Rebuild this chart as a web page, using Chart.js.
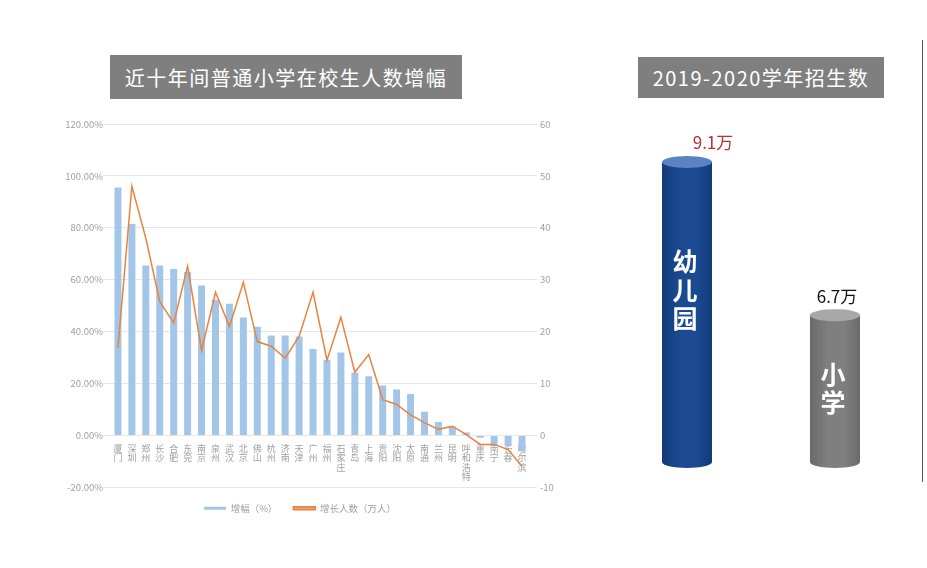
<!DOCTYPE html>
<html>
<head>
<meta charset="utf-8">
<script src="https://cdn.jsdelivr.net/npm/chart.js@4.4.0/dist/chart.umd.min.js"></script>
<style>
  body { margin: 0; background: #fff; width: 927px; height: 568px; overflow: hidden; position: relative;
         font-family: "Noto Sans CJK SC", "Noto Sans", sans-serif; }
  .title { position: absolute; background: #7f7f7f; color: #fff; font-size: 20px; letter-spacing: 1.5px;
           display: flex; align-items: center; justify-content: center; }
  #leftWrap { position: absolute; left: 0; top: 100px; width: 600px; height: 429px; }
  #rightWrap { position: absolute; left: 600px; top: 100px; width: 327px; height: 400px; }
  #edge { position: absolute; left: 922px; top: 40px; width: 1px; height: 442px; background: #555; }
</style>
</head>
<body>
<div class="title" style="left:110px;top:55px;width:352px;height:44px;">近十年间普通小学在校生人数增幅</div>
<div class="title" style="left:638px;top:57px;width:246px;height:41px;">2019-2020学年招生数</div>
<div id="leftWrap"><canvas id="growth"></canvas></div>
<div id="rightWrap"><canvas id="enroll"></canvas></div>
<div id="edge"></div>
<script>
// 城市
const cities = ['厦门','深圳','郑州','长沙','合肥','东莞','南京','泉州','武汉','北京',
  '佛山','杭州','济南','天津','广州','福州','石家庄','青岛','上海','贵阳',
  '沈阳','太原','南通','兰州','昆明','呼和浩特','重庆','南宁','长春','哈尔滨'];
// 增幅（%）
const growthPct = [95.5, 81.5, 65.5, 65.5, 64.2, 63.0, 57.8, 52.3, 50.8, 45.5,
  41.9, 38.5, 38.5, 38.2, 33.3, 29.2, 32.0, 24.2, 22.8, 19.3,
  17.7, 16.0, 9.2, 5.2, 3.5, 1.2, -0.8, -3.5, -4.0, -6.0];
// 增长人数（万人）
const growthNum = [16.9, 48.0, 38.0, 25.8, 21.7, 32.6, 16.4, 27.6, 21.0, 29.5,
  18.1, 17.2, 14.9, 19.1, 27.6, 14.5, 22.8, 12.2, 15.6, 6.9,
  6.0, 4.0, 2.5, 1.2, 1.8, 0.2, -1.7, -1.7, -2.7, -5.9];

// 招生数（万）
const stages = ['幼儿园', '小学'];
const enrollments = [9.1, 6.7];
const valueColors = ['#b13535', '#111111'];

const tickFont = { family: '"Noto Sans CJK SC", sans-serif', size: 9.5 };
const grey = '#a0a0a0';

new Chart(document.getElementById('growth'), {
  type: 'bar',
  data: {
    labels: cities.map(c => c.split('')),
    datasets: [
      {
        label: '增幅（%）',
        data: growthPct,
        backgroundColor: '#a2c5e8',
        yAxisID: 'y',
        order: 2,
        categoryPercentage: 1,
        barPercentage: 0.5
      },
      {
        type: 'line',
        label: '增长人数（万人）',
        data: growthNum,
        borderColor: '#e8843f',
        backgroundColor: '#e8a070',
        borderWidth: 1.5,
        pointRadius: 0,
        tension: 0,
        yAxisID: 'y1',
        order: 1
      }
    ]
  },
  options: {
    responsive: true,
    maintainAspectRatio: false,
    animation: false,
    layout: { padding: { top: 24, bottom: 6 } },
    plugins: {
      legend: {
        position: 'bottom',
        labels: {
          boxWidth: 22, boxHeight: 3, color: grey, font: tickFont, padding: 16,
          sort: (a, b) => a.datasetIndex - b.datasetIndex
        }
      },
      tooltip: { enabled: false }
    },
    scales: {
      x: {
        position: { y: 0 },
        afterFit: s => { s.height = 0; },
        grid: { display: false },
        border: { display: false },
        ticks: { color: grey, font: { ...tickFont, size: 9, lineHeight: 1.05 }, maxRotation: 0, autoSkip: false, padding: 0 }
      },
      y: {
        position: 'left',
        min: -20, max: 120,
        afterFit: s => { s.width = 111; },
        grid: { color: '#e6e6e6' },
        border: { display: false },
        ticks: { stepSize: 20, color: grey, font: tickFont, padding: 0,
                 callback: v => v.toFixed(2) + '%' }
      },
      y1: {
        position: 'right',
        min: -10, max: 60,
        afterFit: s => { s.width = 71; },
        grid: { drawOnChartArea: false },
        border: { display: false },
        ticks: { stepSize: 10, color: grey, font: tickFont, padding: 3 }
      }
    }
  }
});

// cylinders for the enrolment bars
const cylinderColors = [
  { body: '#1b4a92', edge: '#123a78', top: '#5b82c2' },
  { body: '#7f7f7f', edge: '#6a6a6a', top: '#a8a8a8' }
];
const cylinderPlugin = {
  id: 'cylinders',
  afterDatasetsDraw(chart) {
    const ctx = chart.ctx;
    const meta = chart.getDatasetMeta(0);
    meta.data.forEach((bar, i) => {
      const c = cylinderColors[i];
      const w = bar.width, x0 = bar.x - w / 2, top = bar.y;
      const base = Math.min(bar.base, chart.chartArea.bottom);
      const ry = 6;
      ctx.save();
      const g = ctx.createLinearGradient(x0, 0, x0 + w, 0);
      g.addColorStop(0, c.edge);
      g.addColorStop(0.35, c.body);
      g.addColorStop(0.7, c.body);
      g.addColorStop(1, c.edge);
      ctx.fillStyle = g;
      ctx.beginPath();
      ctx.moveTo(x0, top);
      ctx.lineTo(x0, base);
      ctx.ellipse(bar.x, base, w / 2, ry, 0, Math.PI, 0, true);
      ctx.lineTo(x0 + w, top);
      ctx.closePath();
      ctx.fill();
      ctx.fillStyle = c.top;
      ctx.beginPath();
      ctx.ellipse(bar.x, top, w / 2, ry, 0, 0, Math.PI * 2);
      ctx.fill();

      // value label
      ctx.fillStyle = valueColors[i];
      ctx.font = '17px "Noto Sans CJK SC", sans-serif';
      ctx.textAlign = 'center';
      ctx.textBaseline = 'middle';
      ctx.fillText(enrollments[i] + '万', bar.x + (i === 0 ? 26 : 2), top - 19);

      // vertical stage name
      ctx.fillStyle = '#ffffff';
      ctx.font = 'bold 25px "Noto Sans CJK SC", sans-serif';
      const chars = stages[i].split('');
      const startY = i === 0 ? top + 100 : top + 59;
      chars.forEach((ch, k) => ctx.fillText(ch, bar.x - 2, startY + k * 28.5));
      ctx.restore();
    });
  }
};

new Chart(document.getElementById('enroll'), {
  type: 'bar',
  data: {
    labels: stages,
    datasets: [{
      data: enrollments,
      backgroundColor: 'rgba(0,0,0,0)',
      categoryPercentage: 1,
      barPercentage: 0.338
    }]
  },
  options: {
    responsive: true,
    maintainAspectRatio: false,
    animation: false,
    layout: { padding: { left: 13, right: 18, top: 30, bottom: 38 } },
    plugins: { legend: { display: false }, tooltip: { enabled: false } },
    scales: {
      x: { display: false },
      y: { display: false, min: 4.4, max: 9.6 }
    }
  },
  plugins: [cylinderPlugin]
});
</script>
</body>
</html>
